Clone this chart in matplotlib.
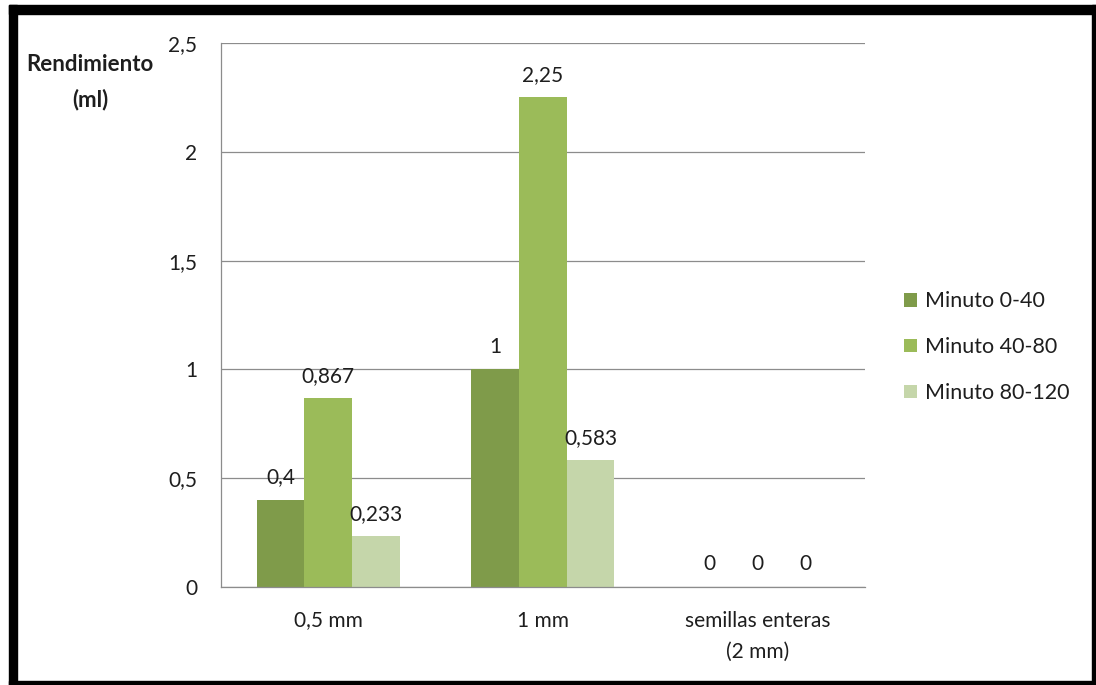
import matplotlib
matplotlib.use("Agg")
import matplotlib.pyplot as plt
import numpy as np
from matplotlib.patches import Rectangle

plt.rcParams['font.family'] = ['Lato', 'DejaVu Sans']

categories = ["0,5 mm", "1 mm", "semillas enteras\n(2 mm)"]
series_names = ["Minuto 0-40", "Minuto 40-80", "Minuto 80-120"]
min_0_40 = [0.4, 1.0, 0.0]
min_40_80 = [0.867, 2.25, 0.0]
min_80_120 = [0.233, 0.583, 0.0]
label_text = [["0,4", "1", "0"], ["0,867", "2,25", "0"], ["0,233", "0,583", "0"]]
yticks = [0, 0.5, 1, 1.5, 2, 2.5]
ytick_labels = ["0", "0,5", "1", "1,5", "2", "2,5"]

colors = ["#7F9B4A", "#9BBB59", "#C5D6AA"]
txt = "#1e1e1e"
fs = 15

fig = plt.figure(figsize=(10.96, 6.85), dpi=100)
ax = fig.add_axes([0.2016, 0.1431, 0.789 - 0.2016, 0.9372 - 0.1431])

x = np.arange(len(categories))
w = 0.222
series = [min_0_40, min_40_80, min_80_120]
for i, vals in enumerate(series):
    pos = x + (i - 1) * w
    ax.bar(pos, vals, w, color=colors[i], label=series_names[i], zorder=2)
    for p, v, t in zip(pos, vals, label_text[i]):
        ax.annotate(t, (p, v), xytext=(0, 9), textcoords="offset points",
                    ha="center", va="bottom", fontsize=fs, color=txt)

ax.set_xlim(-0.5, 2.5)
ax.set_ylim(0, 2.5)
ax.set_yticks(yticks)
ax.set_yticklabels(ytick_labels)
ax.set_xticks(x)
ax.set_xticklabels(categories, linespacing=1.7)
ax.tick_params(axis="both", length=0, labelsize=fs, labelcolor=txt)
ax.tick_params(axis="y", pad=17)
ax.tick_params(axis="x", pad=17)
ax.yaxis.grid(True, color="#8c8c8c", linewidth=0.9, zorder=0)
ax.set_axisbelow(True)
for s in ["top", "right"]:
    ax.spines[s].set_visible(False)
for s in ["left", "bottom"]:
    ax.spines[s].set_color("#8c8c8c")
    ax.spines[s].set_linewidth(0.9)

fig.text(90 / 1096, 1 - 82 / 685, "Rendimiento\n(ml)", ha="center", va="center",
         fontsize=16, fontweight="bold", color=txt, linespacing=1.75)

ax.legend(loc="center left", bbox_to_anchor=(1.031, 0.441), frameon=False,
          fontsize=15.5, handlelength=0.6, handleheight=0.6, handletextpad=0.35,
          labelspacing=1.2, labelcolor=txt)

# heavy black frame around the figure
H = 685.0
W = 1096.0
for (x0, y0, x1, y1) in [(9, 5, 1096, 14), (9, 5, 17, 685), (1092, 5, 1096, 685), (9, 681, 1096, 685)]:
    fig.patches.append(Rectangle((x0 / W, 1 - y1 / H), (x1 - x0) / W, (y1 - y0) / H,
                                 transform=fig.transFigure, color="black", zorder=10))

fig.savefig("out.png", dpi=100)
